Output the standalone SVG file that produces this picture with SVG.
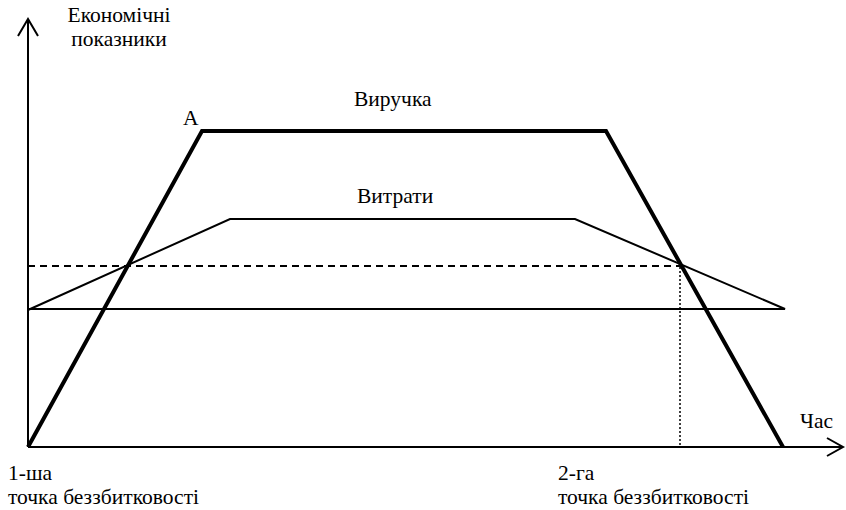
<svg xmlns="http://www.w3.org/2000/svg" width="846" height="510" viewBox="0 0 846 510">
<style>
text{font-family:"Liberation Serif","Times New Roman",serif;font-size:21.5px;fill:#000}
.ax{stroke:#000;stroke-width:2;fill:none}
.thick{stroke:#000;stroke-width:4;fill:none;stroke-linejoin:miter}
.thin{stroke:#000;stroke-width:2;fill:none}
</style>
<rect width="846" height="510" fill="#fff"/>
<g id="axes">
<line class="ax" x1="28" y1="447" x2="28" y2="20"/>
<polyline class="ax" points="18,36 28,19 38,36"/>
<line class="ax" x1="28" y1="447" x2="843" y2="447"/>
<polyline class="ax" points="827,438 843,447 827,456"/>
</g>
<g id="connectors">
<polyline id="revenue" class="thick" points="28,447 202,131 606,131 783,447"/>
<polyline id="costs" class="thin" points="28,310 230,219 575,219 785,309 28,309"/>
<line id="level" x1="28" y1="266" x2="681" y2="266" stroke="#000" stroke-width="2" stroke-dasharray="7,5"/>
<line id="drop" x1="680" y1="267" x2="680" y2="447" stroke="#000" stroke-width="1.5" stroke-dasharray="2,2"/>
</g>
<g id="labels">
<text x="119" y="22" text-anchor="middle">Економічні</text>
<text x="119" y="46" text-anchor="middle">показники</text>
<text x="183" y="125">A</text>
<text x="354" y="106">Виручка</text>
<text x="357" y="203">Витрати</text>
<text x="800" y="428">Час</text>
<text x="8" y="480">1-ша</text>
<text x="8" y="504">точка беззбитковості</text>
<text x="558" y="480">2-га</text>
<text x="558" y="504">точка беззбитковості</text>
</g>
</svg>
